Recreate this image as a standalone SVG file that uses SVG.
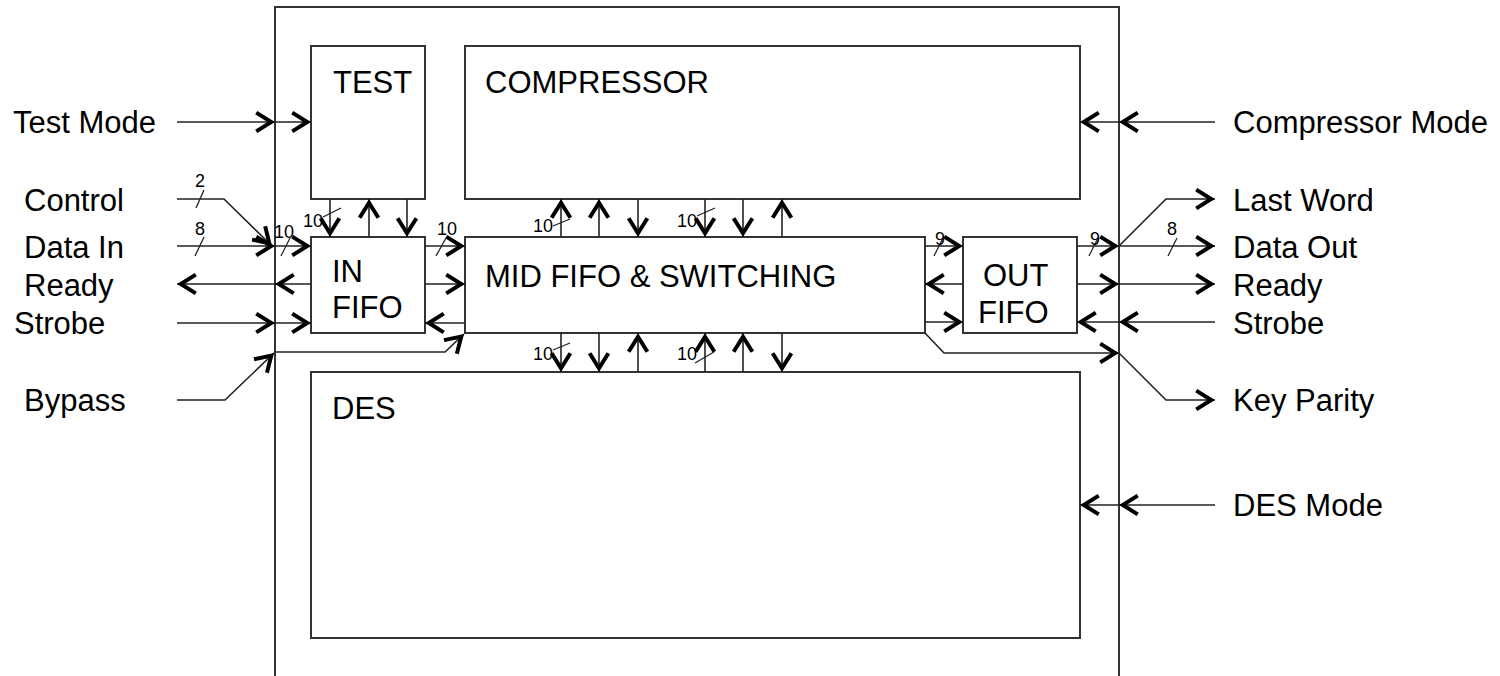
<svg xmlns="http://www.w3.org/2000/svg" width="1500" height="676" viewBox="0 0 1500 676">
<style>
.box{fill:#fff;stroke:#333;stroke-width:2}
.ln{fill:none;stroke:#222;stroke-width:1.6}
.arr{marker-end:url(#ah)}
.sl{fill:none;stroke:#222;stroke-width:1.3}
.t{font-family:"Liberation Sans",Arial,sans-serif;font-size:31px;fill:#000}
.s{font-family:"Liberation Sans",Arial,sans-serif;font-size:18px;fill:#000;text-anchor:middle}
</style>
<defs>
<marker id="ah" markerUnits="userSpaceOnUse" markerWidth="30" markerHeight="30" viewBox="-20 -12 24 24" refX="0" refY="0" orient="auto" overflow="visible">
<path d="M-15,-7.5 L-3,0 L-15,7.5" fill="none" stroke="#000" stroke-width="3.2" stroke-linejoin="miter"/>
</marker>
</defs>
<rect width="1500" height="676" fill="#fff"/>
<g id="outer"><path d="M275,676 V7 H1119 V676" fill="none" stroke="#333" stroke-width="2"/></g>
<g id="test"><rect class="box" x="311" y="46" width="114" height="153"/><text class="t" x="333" y="93">TEST</text></g>
<g id="compressor"><rect class="box" x="465" y="46" width="615" height="153"/><text class="t" x="485" y="93">COMPRESSOR</text></g>
<g id="infifo"><rect class="box" x="311" y="237" width="114" height="96"/><text class="t" x="332" y="282">IN</text><text class="t" x="332" y="318">FIFO</text></g>
<g id="midfifo"><rect class="box" x="465" y="237" width="460" height="96"/><text class="t" x="485" y="287">MID FIFO &amp; SWITCHING</text></g>
<g id="outfifo"><rect class="box" x="963" y="237" width="114" height="96"/><text class="t" x="983" y="286">OUT</text><text class="t" x="978" y="323">FIFO</text></g>
<g id="des"><rect class="box" x="311" y="372" width="769" height="266"/><text class="t" x="332" y="419">DES</text></g>
<g id="labels">
<text class="t" x="13" y="133">Test Mode</text>
<text class="t" x="24" y="211">Control</text>
<text class="t" x="24" y="258">Data In</text>
<text class="t" x="24" y="296">Ready</text>
<text class="t" x="14" y="334">Strobe</text>
<text class="t" x="24" y="411">Bypass</text>
<text class="t" x="1233" y="133">Compressor Mode</text>
<text class="t" x="1233" y="211">Last Word</text>
<text class="t" x="1233" y="258">Data Out</text>
<text class="t" x="1233" y="296">Ready</text>
<text class="t" x="1233" y="334">Strobe</text>
<text class="t" x="1233" y="411">Key Parity</text>
<text class="t" x="1233" y="516">DES Mode</text>
</g>
<g id="connectors">
<path class="ln arr" d="M177,122 H275"/><path class="ln arr" d="M275,122 H311"/>
<path class="ln arr" d="M177,199 H224 L272,246"/>
<path class="ln arr" d="M177,246 H275"/><path class="ln arr" d="M275,246 H311"/>
<path class="ln arr" d="M311,284 H275"/><path class="ln arr" d="M275,284 H177"/>
<path class="ln arr" d="M177,323 H275"/><path class="ln arr" d="M275,323 H311"/>
<path class="ln arr" d="M177,400 H225 L274,353"/>
<path class="ln arr" d="M275,352 H445 L464,334"/>
<path class="ln arr" d="M330,199 V237"/>
<path class="ln arr" d="M369,237 V199"/>
<path class="ln arr" d="M407,199 V237"/>
<path class="ln arr" d="M425,246 H465"/>
<path class="ln arr" d="M425,284 H465"/>
<path class="ln arr" d="M465,323 H425"/>
<path class="ln arr" d="M561,237 V199"/>
<path class="ln arr" d="M599,237 V199"/>
<path class="ln arr" d="M638,199 V237"/>
<path class="ln arr" d="M705,199 V237"/>
<path class="ln arr" d="M743,199 V237"/>
<path class="ln arr" d="M782,237 V199"/>
<path class="ln arr" d="M561,333 V372"/>
<path class="ln arr" d="M599,333 V372"/>
<path class="ln arr" d="M638,372 V333"/>
<path class="ln arr" d="M705,372 V333"/>
<path class="ln arr" d="M743,372 V333"/>
<path class="ln arr" d="M782,333 V372"/>
<path class="ln arr" d="M925,246 H963"/>
<path class="ln arr" d="M963,284 H925"/>
<path class="ln arr" d="M925,322 H963"/>
<path class="ln arr" d="M925,333 L944,353 H1119"/>
<path class="ln arr" d="M1119,353 L1166,400 H1215"/>
<path class="ln arr" d="M1077,246 H1119"/>
<path class="ln arr" d="M1119,246 H1215"/>
<path class="ln arr" d="M1119,246 L1166,199 H1215"/>
<path class="ln arr" d="M1077,284 H1119"/><path class="ln arr" d="M1119,284 H1215"/>
<path class="ln arr" d="M1215,322 H1119"/><path class="ln arr" d="M1119,322 H1077"/>
<path class="ln arr" d="M1215,122 H1119"/><path class="ln arr" d="M1119,122 H1080"/>
<path class="ln arr" d="M1215,505 H1119"/><path class="ln arr" d="M1119,505 H1080"/>
<path class="sl" d="M196,208 L204,190"/><text class="s" x="200" y="187">2</text>
<path class="sl" d="M195,256 L204,237"/><text class="s" x="200" y="235">8</text>
<path class="sl" d="M281,256 L290,238"/><text class="s" x="284" y="238">10</text>
<path class="sl" d="M323,217 L341,208"/><text class="s" x="313" y="227">10</text>
<path class="sl" d="M436,256 L446,238"/><text class="s" x="447" y="235">10</text>
<path class="sl" d="M553,226 L570,219"/><text class="s" x="543" y="232">10</text>
<path class="sl" d="M697,216 L715,208"/><text class="s" x="687" y="227">10</text>
<path class="sl" d="M553,350 L570,343"/><text class="s" x="543" y="360">10</text>
<path class="sl" d="M695,363 L714,352"/><text class="s" x="687" y="360">10</text>
<path class="sl" d="M934,256 L943,238"/><text class="s" x="940" y="245">9</text>
<path class="sl" d="M1089,256 L1098,238"/><text class="s" x="1095" y="245">9</text>
<path class="sl" d="M1168,256 L1177,238"/><text class="s" x="1172" y="235">8</text>
</g>
</svg>
